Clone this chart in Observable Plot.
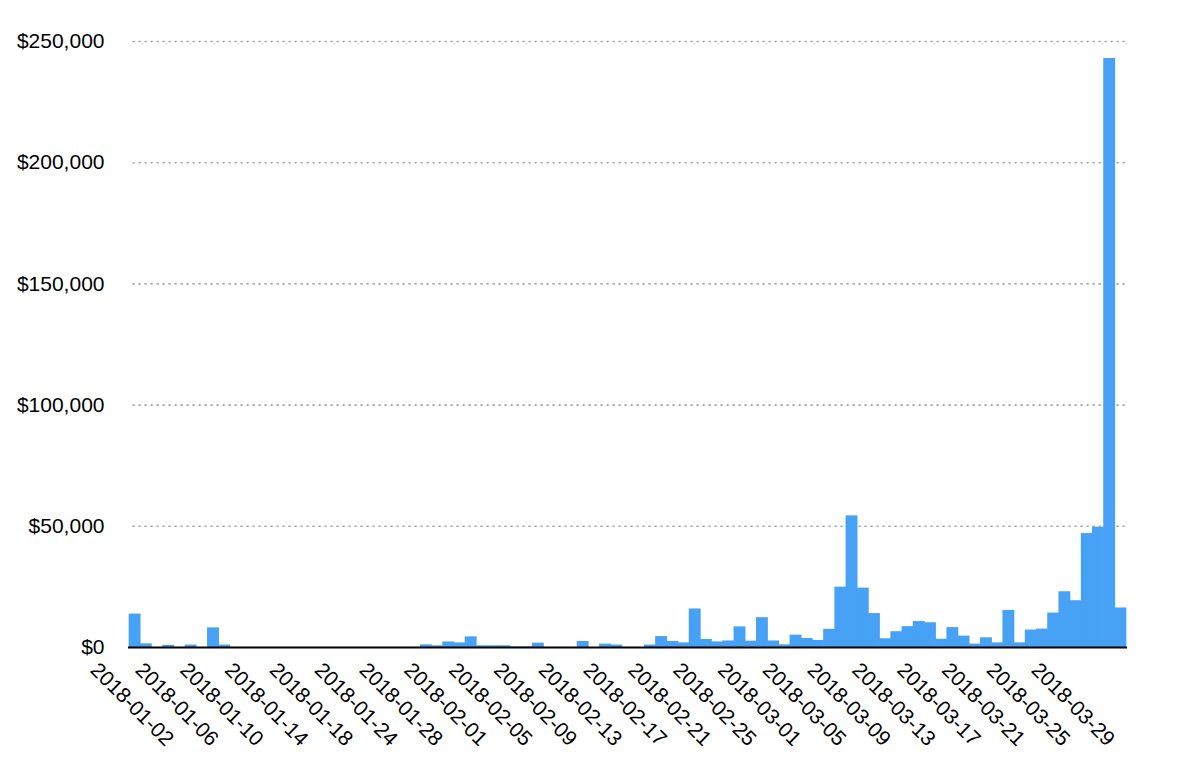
<!DOCTYPE html>
<html>
<head>
<meta charset="utf-8">
<script src="https://cdn.jsdelivr.net/npm/d3@7"></script>
<script src="https://cdn.jsdelivr.net/npm/@observablehq/plot@0.6"></script>
<style>
  html, body { margin: 0; padding: 0; background: #fff; }
  #chart svg { display: block; }
</style>
</head>
<body>
<div id="chart"></div>
<script>
const dates = [
  "2018-01-02","2018-01-03","2018-01-04","2018-01-05","2018-01-06","2018-01-07","2018-01-08","2018-01-09",
  "2018-01-10","2018-01-11","2018-01-12","2018-01-13","2018-01-14","2018-01-15","2018-01-16","2018-01-17",
  "2018-01-18","2018-01-19","2018-01-22","2018-01-23","2018-01-24","2018-01-25","2018-01-26","2018-01-27",
  "2018-01-28","2018-01-29","2018-01-30","2018-01-31","2018-02-01","2018-02-02","2018-02-03","2018-02-04",
  "2018-02-05","2018-02-06","2018-02-07","2018-02-08","2018-02-09","2018-02-10","2018-02-11","2018-02-12",
  "2018-02-13","2018-02-14","2018-02-15","2018-02-16","2018-02-17","2018-02-18","2018-02-19","2018-02-20",
  "2018-02-21","2018-02-22","2018-02-23","2018-02-24","2018-02-25","2018-02-26","2018-02-27","2018-02-28",
  "2018-03-01","2018-03-02","2018-03-03","2018-03-04","2018-03-05","2018-03-06","2018-03-07","2018-03-08",
  "2018-03-09","2018-03-10","2018-03-11","2018-03-12","2018-03-13","2018-03-14","2018-03-15","2018-03-16",
  "2018-03-17","2018-03-18","2018-03-19","2018-03-20","2018-03-21","2018-03-22","2018-03-23","2018-03-24",
  "2018-03-25","2018-03-26","2018-03-27","2018-03-28","2018-03-29","2018-03-30","2018-03-31","2018-04-01",
  "2018-04-02"
];

const values = [
  13800, 1500, 0, 900, 0, 1000, 0, 8100,
  1000, 0, 0, 0, 0, 0, 0, 0,
  0, 0, 0, 0, 0, 0, 0, 0,
  0, 0, 1100, 700, 2300, 1900, 4400, 700,
  700, 700, 200, 200, 1800, 0, 0, 0,
  2500, 0, 1400, 1000, 0, 0, 1000, 4500,
  2500, 1900, 15900, 3300, 2300, 2700, 8500, 2600,
  12300, 2700, 1100, 5100, 3700, 2900, 7500, 24900,
  54300, 24500, 14000, 3600, 6500, 8600, 10700, 10200,
  3400, 8200, 4700, 1400, 4000, 1900, 15300, 1900,
  7200, 7600, 14200, 23000, 19300, 47000, 49600, 243000,
  16300
];

const tickLabels = [
  "2018-01-02","2018-01-06","2018-01-10","2018-01-14","2018-01-18","2018-01-24",
  "2018-01-28","2018-02-01","2018-02-05","2018-02-09","2018-02-13","2018-02-17",
  "2018-02-21","2018-02-25","2018-03-01","2018-03-05","2018-03-09","2018-03-13",
  "2018-03-17","2018-03-21","2018-03-25","2018-03-29"
];

const yTicks = [0, 50000, 100000, 150000, 200000, 250000];

const data = dates.map((d, i) => ({date: d, value: values[i]}));

const chart = Plot.plot({
  width: 1200,
  height: 779,
  marginLeft: 129,
  marginRight: 74,
  marginTop: 41,
  marginBottom: 132,
  style: {fontFamily: "'Liberation Sans', Arial, sans-serif", fontSize: "21px", color: "#000", background: "#fff"},
  x: {type: "band", domain: dates, padding: 0, round: false, axis: null},
  y: {domain: [0, 250000], axis: null, label: null},
  marks: [
    Plot.ruleY(yTicks.filter(d => d > 0), {stroke: "#a8a8a8", strokeWidth: 1.6, strokeDasharray: "1.2,4.8", strokeLinecap: "round", insetLeft: 4, insetRight: 1}),
    Plot.barY(data, {x: "date", y: "value", fill: "#47a1f5", insetLeft: -0.35, insetRight: -0.35}),
    Plot.ruleY([0], {stroke: "#000", strokeWidth: 2, insetLeft: -1, insetRight: -1}),
    Plot.axisY({ticks: yTicks, tickSize: 0, tickPadding: 25, label: null, tickFormat: d => "$" + d3.format(",")(d), fill: "#000", fontSize: 21}),
    Plot.text(tickLabels, {x: d => d, y: 0, rotate: 45, textAnchor: "middle", lineAnchor: "middle", dy: 57, dx: -3, fill: "#000", fontSize: 21})
  ]
});

document.getElementById("chart").appendChild(chart);
</script>
</body>
</html>
